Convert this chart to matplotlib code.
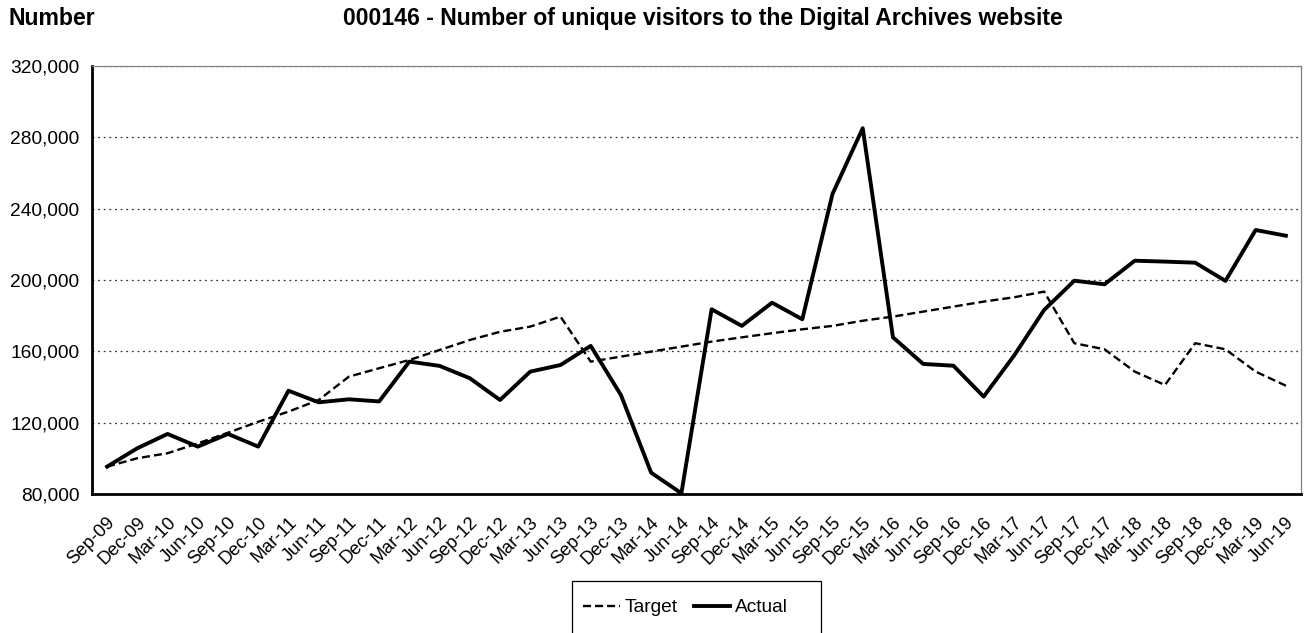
import matplotlib
matplotlib.use("Agg")
import matplotlib.pyplot as plt
import matplotlib.transforms as mtransforms
from matplotlib.patches import Rectangle
from matplotlib.ticker import FuncFormatter

plt.rcParams["font.family"] = ["Liberation Sans", "DejaVu Sans"]

# ── Data ───────────────────────────────────────────────────────────────
quarters = ["Sep-09", "Dec-09", "Mar-10", "Jun-10", "Sep-10", "Dec-10", "Mar-11", "Jun-11",
            "Sep-11", "Dec-11", "Mar-12", "Jun-12", "Sep-12", "Dec-12", "Mar-13", "Jun-13",
            "Sep-13", "Dec-13", "Mar-14", "Jun-14", "Sep-14", "Dec-14", "Mar-15", "Jun-15",
            "Sep-15", "Dec-15", "Mar-16", "Jun-16", "Sep-16", "Dec-16", "Mar-17", "Jun-17",
            "Sep-17", "Dec-17", "Mar-18", "Jun-18", "Sep-18", "Dec-18", "Mar-19", "Jun-19"]

target = [95500, 100200, 103000, 108500, 114500, 120600, 126300, 132800,
          145900, 150600, 155200, 160800, 166400, 171000, 173900, 179500,
          154300, 157100, 159900, 162700, 165500, 167900, 170200, 172400,
          174300, 177200, 179500, 182300, 185100, 187900, 190300, 193500,
          164600, 161200, 148700, 141200, 164600, 161200, 148700, 140800]

actual = [95500, 105800, 113800, 106700, 113800, 106700, 138000, 131500,
          133200, 132000, 154300, 151900, 145000, 132800, 148700, 152400,
          163100, 135600, 92100, 80600, 183600, 174300, 187300, 178000,
          248200, 285000, 167900, 153000, 152000, 134700, 157500, 183200,
          199600, 197600, 210800, 210300, 209700, 199500, 228000, 224800]

yticks = [80000, 120000, 160000, 200000, 240000, 280000, 320000]

W, H = 1309, 633
FS = 13.8

# ── Plot ───────────────────────────────────────────────────────────────
fig = plt.figure(figsize=(W / 100, H / 100), dpi=100)
ax = fig.add_axes([92 / W, 1 - 494.3 / H, (1301 - 92) / W, (494.3 - 65.7) / H])

x = list(range(len(quarters)))
ax.plot(x, target, color="black", linewidth=1.7, linestyle=(0, (3.4, 1.7)), label="Target")
ax.plot(x, actual, color="black", linewidth=2.8, label="Actual")

ax.set_xlim(-0.5, len(quarters) - 0.5)
ax.set_ylim(80000, 320000)
ax.set_yticks(yticks)
ax.yaxis.set_major_formatter(FuncFormatter(lambda v, p: f"{int(v):,}"))
ax.set_xticks(x)
ax.set_xticklabels(quarters, rotation=45, ha="right", va="center", rotation_mode="anchor")
ax.tick_params(axis="y", length=0, labelsize=FS, colors="black", pad=9)
ax.tick_params(axis="x", length=0, labelsize=13.2, colors="black", pad=18.5)
shift = mtransforms.ScaledTranslation(5.5 / 100, 0, fig.dpi_scale_trans)
for lbl in ax.get_xticklabels():
    lbl.set_transform(lbl.get_transform() + shift)

ax.grid(axis="y", color="#333333", linestyle=(0, (1.5, 3)), linewidth=0.9)
ax.set_axisbelow(True)
for side in ["left", "bottom"]:
    ax.spines[side].set_linewidth(2.0)
for side in ["top", "right"]:
    ax.spines[side].set_linewidth(0.9)
    ax.spines[side].set_color("#808080")

fig.text(8 / W, 1 - 25.3 / H, "Number", fontsize=16.6, fontweight="bold", va="baseline", ha="left")
fig.text(343 / W, 1 - 25.3 / H,
         "000146 - Number of unique visitors to the Digital Archives website",
         fontsize=16.6, fontweight="bold", va="baseline", ha="left")

# legend box (Excel style, runs off the bottom edge)
fig.patches.append(Rectangle((572 / W, -0.05), (821 - 572) / W, 0.05 + (H - 581) / H,
                             transform=fig.transFigure, fill=False,
                             edgecolor="black", linewidth=0.9))
leg = fig.legend(loc="center", bbox_to_anchor=(685.5 / W, 1 - 607.7 / H),
                 ncol=2, fontsize=FS, frameon=False, handlelength=1.9,
                 handletextpad=0.25, columnspacing=0.85, borderpad=0, borderaxespad=0)

fig.savefig("out.png", dpi=100)
